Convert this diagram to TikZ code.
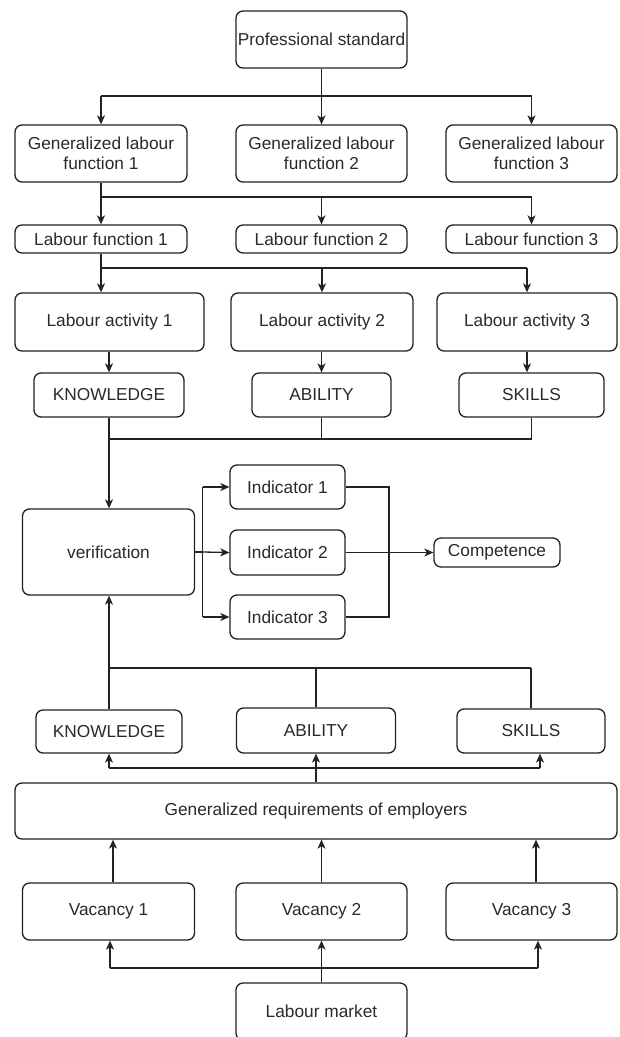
\documentclass[tikz,border=0pt]{standalone}
\usepackage{fontspec}
\setmainfont{Liberation Sans}
\usetikzlibrary{arrows.meta}
\definecolor{ink}{HTML}{222222}
\definecolor{txt}{HTML}{2a2a2a}
\tikzset{
  box/.style={draw=ink, line width=1.3pt, rounded corners=7pt, fill=white,
    inner sep=0pt, align=center, text=txt,
    font=\fontsize{17.3}{20.5}\selectfont},
  wire/.style={draw=ink, line width=1.3pt},
  arr/.style={wire, -{Stealth[length=9pt,width=8pt,inset=2.5pt]}},
}
\begin{document}
\begin{tikzpicture}[x=1pt,y=-1pt]
\useasboundingbox (0,0) rectangle (620,1037);
\clip (0,0) rectangle (620,1037);

% standards side
\node[box, minimum width=171pt, minimum height=57pt] (ps) at (321.5,39.5) {Professional standard};
\node[box, minimum width=172pt, minimum height=57pt] (g1) at (101,153.5) {Generalized labour\\function 1};
\node[box, minimum width=171pt, minimum height=57pt] (g2) at (321.5,153.5) {Generalized labour\\function 2};
\node[box, minimum width=171pt, minimum height=57pt] (g3) at (531.5,153.5) {Generalized labour\\function 3};
\node[box, minimum width=172pt, minimum height=28pt] (f1) at (101,239) {Labour function 1};
\node[box, minimum width=171pt, minimum height=28pt] (f2) at (321.5,239) {Labour function 2};
\node[box, minimum width=171pt, minimum height=28pt] (f3) at (531.5,239) {Labour function 3};
\node[box, minimum width=189pt, minimum height=58pt] (a1) at (109.5,322) {Labour activity 1};
\node[box, minimum width=182pt, minimum height=58pt] (a2) at (322,322) {Labour activity 2};
\node[box, minimum width=180pt, minimum height=58pt] (a3) at (527,322) {Labour activity 3};
\node[box, minimum width=150pt, minimum height=44pt] (k1) at (109,395) {KNOWLEDGE};
\node[box, minimum width=139pt, minimum height=44pt] (b1) at (321.5,395) {ABILITY};
\node[box, minimum width=145pt, minimum height=44pt] (s1) at (531.5,395) {SKILLS};

% verification and indicators
\node[box, minimum width=172pt, minimum height=86pt] (ver) at (108.5,552) {verification};
\node[box, minimum width=115pt, minimum height=44pt] (i1) at (287.5,487) {Indicator 1};
\node[box, minimum width=115pt, minimum height=45pt] (i2) at (287.5,552.5) {Indicator 2};
\node[box, minimum width=115pt, minimum height=44pt] (i3) at (287.5,617) {Indicator 3};
\node[box, minimum width=126pt, minimum height=29pt] (comp) at (497,552.5) {Competence};

% employers side
\node[box, minimum width=146pt, minimum height=43pt] (k2) at (109,731.5) {KNOWLEDGE};
\node[box, minimum width=159pt, minimum height=45pt] (b2) at (316,730.5) {ABILITY};
\node[box, minimum width=148pt, minimum height=44pt] (s2) at (531,731) {SKILLS};
\node[box, minimum width=602pt, minimum height=56pt] (gr) at (316,811) {Generalized requirements of employers};
\node[box, minimum width=172pt, minimum height=57pt] (v1) at (108.5,911.5) {Vacancy 1};
\node[box, minimum width=171pt, minimum height=57pt] (v2) at (321.5,911.5) {Vacancy 2};
\node[box, minimum width=171pt, minimum height=57pt] (v3) at (531.5,911.5) {Vacancy 3};
\node[box, minimum width=171pt, minimum height=57pt] (lm) at (321.5,1011.5) {Labour market};

% bus levels and off-centre tap points
\coordinate (y1) at (0,96);
\coordinate (y2) at (0,197);
\coordinate (y3) at (0,268);
\coordinate (y4) at (0,439);
\coordinate (yf) at (202.7,0);
\coordinate (yb) at (389,0);
\coordinate (y5) at (0,668);
\coordinate (y6) at (0,768);
\coordinate (y7) at (0,968);
\coordinate (sk) at (540,0);
\coordinate (vl) at (113,0);
\coordinate (vr) at (536,0);
\coordinate (ml) at (110,0);
\coordinate (mr) at (538,0);

% professional standard -> generalized functions
\draw[wire] (ps.south) -- (ps.south |- y1);
\draw[wire] (g1.north |- y1) -- (g3.north |- y1);
\draw[arr] (g1.north |- y1) -- (g1.north);
\draw[arr] (g2.north |- y1) -- (g2.north);
\draw[arr] (g3.north |- y1) -- (g3.north);

% generalized functions -> labour functions
\draw[wire] (g1.south) -- (g1.south |- y2);
\draw[wire] (g1.south |- y2) -- (f3.north |- y2);
\draw[arr] (f1.north |- y2) -- (f1.north);
\draw[arr] (f2.north |- y2) -- (f2.north);
\draw[arr] (f3.north |- y2) -- (f3.north);

% labour functions -> labour activities
\draw[wire] (f1.south) -- (f1.south |- y3);
\draw[wire] (f1.south |- y3) -- (a3.north |- y3);
\draw[arr] (f1.south |- y3) -- (f1.south |- a1.north);
\draw[arr] (a2.north |- y3) -- (a2.north);
\draw[arr] (a3.north |- y3) -- (a3.north);

% labour activities -> knowledge, ability, skills
\draw[arr] (k1.north |- a1.south) -- (k1.north);
\draw[arr] (b1.north |- a2.south) -- (b1.north);
\draw[arr] (a3.south) -- (a3.south |- s1.north);

% knowledge, ability, skills -> verification
\draw[wire] (b1.south) -- (b1.south |- y4);
\draw[wire] (s1.south) -- (s1.south |- y4);
\draw[wire] (k1.south |- y4) -- (s1.south |- y4);
\draw[arr] (k1.south) -- (k1.south |- ver.north);

% verification -> indicators
\draw[wire] (ver.east) -- (yf |- ver.east);
\draw[wire] (yf |- i1.west) -- (yf |- i3.west);
\draw[arr] (yf |- i1.west) -- (i1.west);
\draw[arr] (yf |- ver.east) -- (i2.west);
\draw[arr] (yf |- i3.west) -- (i3.west);

% indicators -> competence
\draw[wire] (i1.east) -- (yb |- i1.east) -- (yb |- i3.east) -- (i3.east);
\draw[arr] (i2.east) -- (comp.west);

% employer requirements -> verification
\draw[wire] (b2.north) -- (b2.north |- y5);
\draw[wire] (s2.north) -- (s2.north |- y5);
\draw[wire] (k2.north |- y5) -- (s2.north |- y5);
\draw[arr] (k2.north) -- (k2.north |- ver.south);

% generalized requirements -> knowledge, ability, skills
\draw[arr] (gr.north -| b2.south) -- (b2.south);
\draw[wire] (k2.south |- y6) -- (sk |- y6);
\draw[arr] (k2.south |- y6) -- (k2.south);
\draw[arr] (sk |- y6) -- (sk |- s2.south);

% vacancies -> generalized requirements
\draw[arr] (vl |- v1.north) -- (vl |- gr.south);
\draw[arr] (v2.north) -- (v2.north |- gr.south);
\draw[arr] (vr |- v3.north) -- (vr |- gr.south);

% labour market -> vacancies
\draw[wire] (lm.north) -- (lm.north |- y7);
\draw[wire] (ml |- y7) -- (mr |- y7);
\draw[arr] (ml |- y7) -- (ml |- v1.south);
\draw[arr] (lm.north |- y7) -- (v2.south);
\draw[arr] (mr |- y7) -- (mr |- v3.south);
\end{tikzpicture}
\end{document}
